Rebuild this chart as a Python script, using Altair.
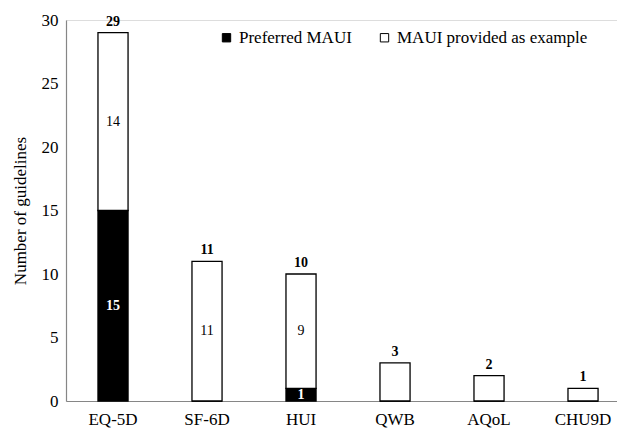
import altair as alt
import pandas as pd

categories = ["EQ-5D", "SF-6D", "HUI", "QWB", "AQoL", "CHU9D"]
preferred = [15, 0, 1, 0, 0, 0]
example = [14, 11, 9, 3, 2, 1]
series_names = ["Preferred MAUI", "MAUI provided as example"]

rows = []
for c, p, e in zip(categories, preferred, example):
    rows.append({"cat": c, "series": series_names[0], "val": p, "lo": 0, "hi": p, "ord": 0})
    rows.append({"cat": c, "series": series_names[1], "val": e, "lo": p, "hi": p + e, "ord": 1})
df = pd.DataFrame(rows)
df["mid"] = (df["lo"] + df["hi"]) / 2
totals = pd.DataFrame({"cat": categories, "total": [p + e for p, e in zip(preferred, example)]})

FONT = "'Liberation Serif', 'Times New Roman', serif"

xenc = alt.X("cat:N", sort=categories, title=None,
             scale=alt.Scale(paddingInner=0.68, paddingOuter=0.2708, align=0.628),
             axis=alt.Axis(labelAngle=0, ticks=False, domainColor="#868686", domainWidth=1.2,
                           labelFontSize=17, labelFont=FONT, labelColor="black", labelPadding=10))

bars = alt.Chart(df).mark_bar(stroke="black", strokeWidth=1.3).encode(
    x=xenc,
    y=alt.Y("lo:Q", scale=alt.Scale(domain=[0, 30], nice=False),
            title="Number of guidelines",
            axis=alt.Axis(values=[0, 5, 10, 15, 20, 25, 30], ticks=False, grid=False,
                          domainColor="#868686", domainWidth=1.2, labelFontSize=17,
                          labelFont=FONT, labelColor="black", labelPadding=8,
                          titleFont=FONT, titleFontSize=17, titleFontWeight="normal",
                          titleColor="black", titlePadding=12)),
    y2="hi:Q",
    fill=alt.Color("series:N", scale=alt.Scale(domain=series_names, range=["black", "white"]),
                   legend=alt.Legend(title=None, orient="none", legendX=152, legendY=9,
                                     direction="horizontal", symbolType="square",
                                     symbolSize=70, symbolStrokeColor="black",
                                     symbolStrokeWidth=1, labelFont=FONT, labelFontSize=17,
                                     labelColor="black", columnPadding=24, labelOffset=4,
                                     labelLimit=400)),
    order="ord:Q",
)

pref_df = df[(df["ord"] == 0) & (df["val"] > 0)]
ex_df = df[(df["ord"] == 1) & (df["val"] > 3)]

pref_labels = alt.Chart(pref_df).mark_text(font=FONT, fontSize=14, fontWeight="bold",
                                           color="white", baseline="middle").encode(
    x=alt.X("cat:N", sort=categories), y="mid:Q", text="val:Q")

ex_labels = alt.Chart(ex_df).mark_text(font=FONT, fontSize=14, color="black",
                                       baseline="middle").encode(
    x=alt.X("cat:N", sort=categories), y="mid:Q", text="val:Q")

total_labels = alt.Chart(totals).mark_text(font=FONT, fontSize=14, fontWeight="bold",
                                           color="black", baseline="bottom", dy=-4).encode(
    x=alt.X("cat:N", sort=categories), y="total:Q", text="total:Q")

chart = alt.layer(bars, pref_labels, ex_labels, total_labels).properties(
    width=551, height=381,
    padding={"left": 58, "top": 12, "right": 0, "bottom": 28},
    autosize=alt.AutoSizeParams(type="none"),
).configure_view(stroke=None).configure(font=FONT)

chart.save("out.html", embed_options={"renderer": "svg", "actions": False})
